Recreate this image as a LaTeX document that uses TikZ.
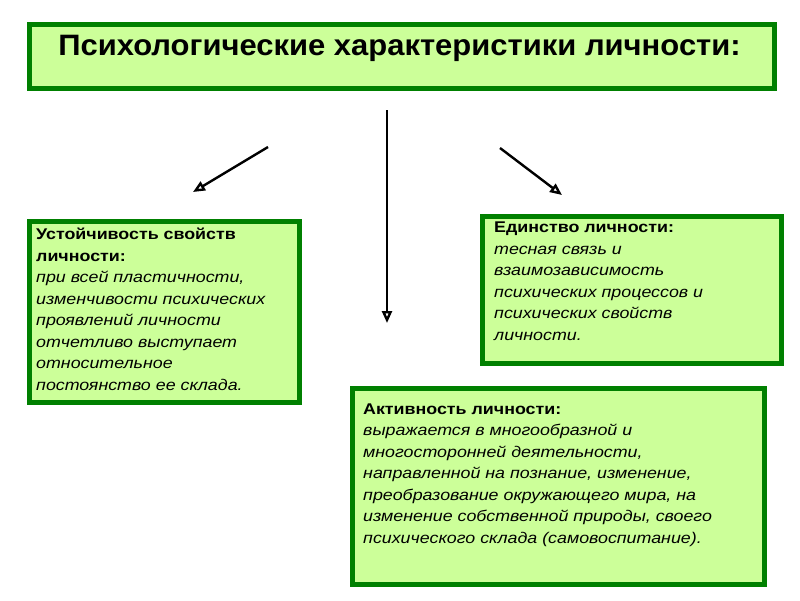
\documentclass[tikz,border=0pt]{standalone}
\usepackage{fontspec}
\setmainfont{Liberation Sans}
\usetikzlibrary{arrows.meta}
\definecolor{boxfill}{HTML}{CCFF99}
\definecolor{boxline}{HTML}{008000}
\tikzset{
  box/.style={draw=boxline, fill=boxfill, line width=5pt, rectangle, inner sep=0pt, anchor=north west},
  body/.style={anchor=base west, align=left, inner sep=0pt, font=\fontsize{15.5}{21.5}\selectfont\addfontfeature{FakeStretch=1.15}},
  conn/.style={line width=2.4pt, -{Triangle[open, length=12pt, width=10pt, line width=2.4pt]}}
}
\begin{document}
\begin{tikzpicture}[x=1pt,y=-1pt]
\useasboundingbox[fill=white] (0,0) rectangle (800,600);
% title
\node[box, minimum width=745pt, minimum height=64pt] (title) at (26.5,21.5) {};
\node[anchor=base, inner sep=0pt, font=\fontsize{29.5}{34}\selectfont\bfseries\addfontfeature{FakeStretch=1.05}] (titletext) at (399.5,55) {Психологические характеристики личности:};
% boxes
\node[box, minimum width=270pt, minimum height=181pt] (left) at (26.5,218.5) {};
\node[box, minimum width=299pt, minimum height=147pt] (right) at (479.5,213.5) {};
\node[box, minimum width=412pt, minimum height=196pt] (bottom) at (349.5,385.5) {};
\node[body] (lefttext) at (36,390) {\textbf{Устойчивость свойств}\\\textbf{личности:}\\\textit{при всей пластичности,}\\\textit{изменчивости психических}\\\textit{проявлений личности}\\\textit{отчетливо выступает}\\\textit{относительное}\\\textit{постоянство ее склада.}};
\node[body] (righttext) at (494,340) {\textbf{Единство личности:}\\\textit{тесная связь и}\\\textit{взаимозависимость}\\\textit{психических процессов и}\\\textit{психических свойств}\\\textit{личности.}};
\node[body] (bottomtext) at (363,543) {\textbf{Активность личности:}\\\textit{выражается в многообразной и}\\\textit{многосторонней деятельности,}\\\textit{направленной на познание, изменение,}\\\textit{преобразование окружающего мира, на}\\\textit{изменение собственной природы, своего}\\\textit{психического склада (самовоспитание).}};
% arrows
\coordinate (a1s) at (268,147);
\coordinate (a1e) at (193,192);
\coordinate (a2s) at (387,110);
\coordinate (a2e) at (387,323);
\coordinate (a3s) at (500,148);
\coordinate (a3e) at (562,195);
\draw[conn] (a1s) -- (a1e);
\draw[conn] (a2s) -- (a2e);
\draw[conn] (a3s) -- (a3e);
\end{tikzpicture}
\end{document}
